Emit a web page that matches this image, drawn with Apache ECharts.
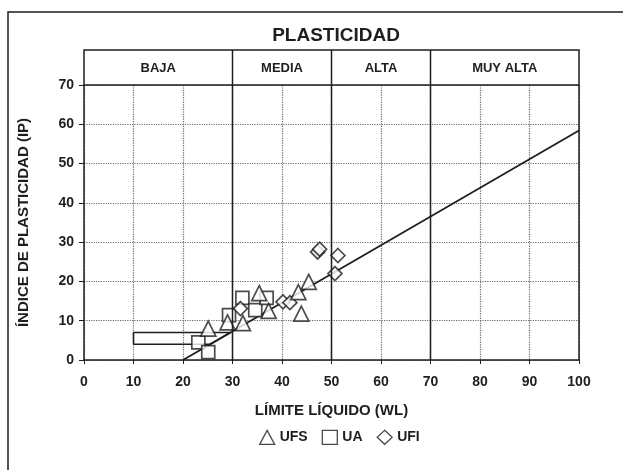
<!DOCTYPE html>
<html>
<head>
<meta charset="utf-8">
<script src="https://cdn.jsdelivr.net/npm/echarts@6/dist/echarts.min.js"></script>
<style>html,body{margin:0;padding:0;background:#fff}#c{width:623px;height:470px}</style>
</head>
<body>
<div id="c"></div>
<script>
// ---- data ----
const xTicks = [0,10,20,30,40,50,60,70,80,90,100];
const yTicks = [0,10,20,30,40,50,60,70];
const bandEdges = [0,30,50,70,100];
const bandNames = ['BAJA','MEDIA','ALTA','MUY ALTA'];
const ufs = [[25.1,8.0],[29.0,9.6],[32.1,9.4],[35.4,17.0],[37.3,12.5],[43.3,17.3],[45.4,19.9],[43.9,11.8]];
const ua = [[23.1,4.5],[25.1,2.0],[29.3,11.4],[32.0,15.8],[34.6,12.7],[36.9,15.8]];
const ufi = [[31.6,13.1],[40.2,14.8],[41.6,14.6],[50.7,22.0],[47.2,27.5],[47.6,28.2],[51.3,26.6]];
const aLine = [[20,0],[100,58.4]];
const clmlZone = [[10,4],[25.5,4],[29.6,7],[10,7],[10,4]];

const FONT = 'Liberation Sans';
const INK = '#1e1e1e';
const chart = echarts.init(document.getElementById('c'));
const mk = {color:'#fff', borderColor:INK, borderWidth:1.7};
chart.setOption({
  animation:false,
  textStyle:{fontFamily:FONT},
  title:{text:'PLASTICIDAD', left:331, textAlign:'center', top:21,
    textStyle:{fontFamily:FONT,fontWeight:'bold',fontSize:19,color:INK}},
  grid:{left:84, right:44, top:85, bottom:110},
  xAxis:{type:'value', min:0, max:100, interval:10,
    name:'LÍMITE LÍQUIDO (WL)', nameLocation:'middle', nameGap:43,
    nameTextStyle:{fontFamily:FONT,fontWeight:'bold',fontSize:15,color:INK},
    axisLine:{lineStyle:{color:INK,width:1.5}},
    axisTick:{show:true,length:4,lineStyle:{color:INK,width:1}},
    axisLabel:{margin:15,fontFamily:FONT,fontWeight:'bold',fontSize:14,color:INK,
      formatter:v=>xTicks.includes(v)?String(v):''},
    splitLine:{show:true,lineStyle:{type:'dotted',color:'#6a6a6a',width:1.2}}},
  yAxis:{type:'value', min:0, max:70, interval:10,
    name:'ÍNDICE DE PLASTICIDAD (IP)', nameLocation:'middle', nameGap:53,
    nameTextStyle:{fontFamily:FONT,fontWeight:'bold',fontSize:15,color:INK},
    axisLine:{show:true,lineStyle:{color:INK,width:1.5}},
    axisTick:{show:true,length:5,lineStyle:{color:INK,width:1}},
    axisLabel:{margin:10,fontFamily:FONT,fontWeight:'bold',fontSize:14,color:INK,
      formatter:v=>yTicks.includes(v)?String(v):''},
    splitLine:{show:true,lineStyle:{type:'dotted',color:'#6a6a6a',width:1.2}}},
  legend:{bottom:20, left:254, itemGap:14, itemWidth:15, itemHeight:14,
    textStyle:{fontFamily:FONT,fontWeight:'bold',fontSize:14,color:INK},
    itemStyle:{color:'#fff',borderColor:INK,borderWidth:1.3},
    data:[{name:'UFS',icon:'triangle'},{name:'UA',icon:'rect'},{name:'UFI',icon:'diamond'}]},
  series:[
    {type:'line', data:clmlZone, symbol:'none', lineStyle:{color:INK,width:1.6}, z:2, silent:true},
    {type:'line', data:aLine, symbol:'none', lineStyle:{color:INK,width:1.8}, z:2, silent:true},
    {name:'UA', type:'scatter', symbol:'rect', symbolSize:13, data:ua, itemStyle:mk, z:3},
    {name:'UFI', type:'scatter', symbol:'diamond', symbolSize:14, data:ufi, itemStyle:mk, z:3},
    {name:'UFS', type:'scatter', symbol:'triangle', symbolSize:15, data:ufs, itemStyle:mk, z:4}
  ]
});

function px(x,y){return chart.convertToPixel({gridIndex:0},[x,y]);}
const tl = px(0,70), br = px(100,0);
const headTop = 50;
const g = [];
g.push({type:'rect', shape:{x:8,y:12,width:700,height:600}, style:{fill:null,stroke:INK,lineWidth:1.5}, silent:true});
g.push({type:'rect', shape:{x:tl[0],y:headTop,width:br[0]-tl[0],height:tl[1]-headTop},
  style:{fill:null,stroke:INK,lineWidth:1.5}, z:10});
g.push({type:'line', shape:{x1:br[0],y1:tl[1],x2:br[0],y2:br[1]}, style:{stroke:INK,lineWidth:1.5}, z:10});
for(let i=1;i<bandEdges.length-1;i++){
  const x = px(bandEdges[i],0)[0];
  g.push({type:'line', shape:{x1:x,y1:headTop,x2:x,y2:br[1]}, style:{stroke:INK,lineWidth:1.5}, z:10});
}
for(let i=0;i<bandNames.length;i++){
  const xc = (px(bandEdges[i],0)[0]+px(bandEdges[i+1],0)[0])/2;
  g.push({type:'text', x:xc, y:(headTop+tl[1])/2+1, style:{text:bandNames[i], fontFamily:FONT,
    fontWeight:'bold', fontSize:13, fill:INK, align:'center', verticalAlign:'middle'}, z:10});
}
chart.setOption({graphic:g});
</script>
</body>
</html>
